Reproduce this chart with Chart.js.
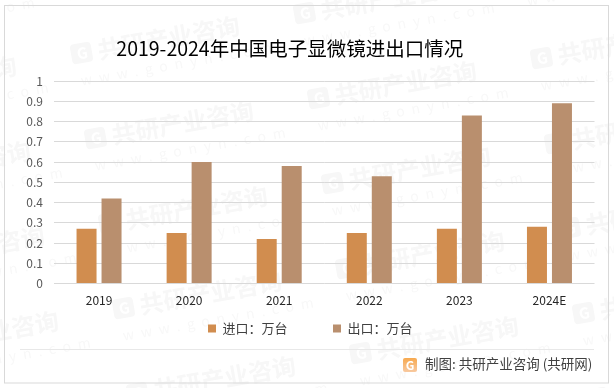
<!DOCTYPE html>
<html>
<head>
<meta charset="utf-8">
<title>2019-2024年中国电子显微镜进出口情况</title>
<script src="https://cdn.jsdelivr.net/npm/chart.js@4"></script>
<style>
    html, body { margin: 0; padding: 0; background: #fff; }
    #wrap { width: 614px; height: 388px; position: relative; }
</style>
</head>
<body>
<div id="wrap"><canvas id="chart" width="614" height="388"></canvas></div>
<script>
    var categories = ['2019', '2020', '2021', '2022', '2023', '2024E'];
    var importValues = [0.27, 0.25, 0.22, 0.25, 0.27, 0.28];
    var exportValues = [0.42, 0.60, 0.58, 0.53, 0.83, 0.89];
    var seriesNames = ['进口：万台', '出口：万台'];
    var chartTitle = '2019-2024年中国电子显微镜进出口情况';
    var sourceText = '制图: 共研产业咨询 (共研网)';
    var CJK = '"Noto Sans CJK SC", "Noto Sans", sans-serif';

    function drawWatermarks(ctx) {
        // stamps sit on a slanted grid across the whole picture
        for (var i = -1; i <= 3; i++) {
            for (var j = -1; j <= 5; j++) {
                var x = 82 + i * 223 + j * 14;
                var y = 53 - i * 40 + j * 85;
                ctx.save();
                ctx.translate(x, y);
                ctx.rotate(-10 * Math.PI / 180);
                ctx.textBaseline = 'middle';
                ctx.fillStyle = '#f7f7f7';
                ctx.beginPath();
                ctx.roundRect(-11, -10, 21, 20, 4);
                ctx.fill();
                ctx.fillStyle = '#ffffff';
                ctx.font = 'bold 15px ' + CJK;
                ctx.fillText('G', -5, 0);
                ctx.fillStyle = '#f7f7f7';
                ctx.font = 'bold 24px ' + CJK;
                ctx.fillText('共研产业咨询', 16, 0);
                ctx.fillStyle = '#f8f8f8';
                ctx.font = '14px ' + CJK;
                ctx.letterSpacing = '7px';
                ctx.fillText('www.gonyn.com', -6, 27);
                ctx.restore();
            }
        }
    }

    var framePlugin = {
        id: 'frame',
        afterLayout: function (chart) {
            // the title and legend are not centred on the padded width
            chart.titleBlock.left -= 7.5;
            chart.titleBlock.right -= 7.5;
            chart.legend.left += 13;
            chart.legend.right += 13;
        },
        beforeDraw: function (chart) {
            var ctx = chart.ctx;
            ctx.save();
            ctx.fillStyle = '#ffffff';
            ctx.fillRect(0, 0, chart.width, chart.height);
            drawWatermarks(ctx);
            ctx.strokeStyle = '#d9d9d9';
            ctx.lineWidth = 1;
            ctx.strokeRect(4.5, 5.5, 604, 377.5);
            ctx.strokeStyle = '#e8e8e8';
            ctx.beginPath();
            ctx.moveTo(20, 349.5);
            ctx.lineTo(594, 349.5);
            ctx.stroke();
            ctx.restore();
        },
        afterDraw: function (chart) {
            var ctx = chart.ctx;
            ctx.save();
            var grad = ctx.createLinearGradient(403, 358, 403, 372);
            grad.addColorStop(0, '#f7a94f');
            grad.addColorStop(1, '#f8c9a0');
            ctx.fillStyle = grad;
            ctx.beginPath();
            ctx.roundRect(403, 358, 14, 14, 2);
            ctx.fill();
            ctx.fillStyle = '#ffffff';
            ctx.font = 'bold 12px ' + CJK;
            ctx.textAlign = 'center';
            ctx.textBaseline = 'middle';
            ctx.fillText('G', 410, 365);
            ctx.fillStyle = '#404040';
            ctx.font = '13.5px ' + CJK;
            ctx.textAlign = 'left';
            ctx.fillText(sourceText, 425, 364);
            ctx.restore();
        }
    };

    new Chart(document.getElementById('chart').getContext('2d'), {
        type: 'bar',
        data: {
            labels: categories,
            datasets: [{
                label: seriesNames[0],
                data: importValues,
                backgroundColor: '#d18d4f'
            }, {
                label: seriesNames[1],
                data: exportValues,
                backgroundColor: '#b98f6e'
            }]
        },
        plugins: [framePlugin],
        options: {
            responsive: false,
            animation: false,
            layout: { padding: { left: 0, right: 19.5, top: 0, bottom: 43 } },
            datasets: { bar: { categoryPercentage: 0.555, barPercentage: 0.8 } },
            plugins: {
                tooltip: { enabled: false },
                title: {
                    display: true,
                    text: chartTitle,
                    color: '#000000',
                    font: { family: CJK, size: 19.5, weight: 'normal', lineHeight: 1.2 },
                    padding: { top: 37, bottom: 20.6 }
                },
                legend: {
                    position: 'bottom',
                    labels: {
                        boxWidth: 8,
                        boxHeight: 8,
                        padding: 6.5,
                        color: '#404040',
                        font: { family: CJK, size: 13 },
                        generateLabels: function (chart) {
                            var items = Chart.defaults.plugins.legend.labels.generateLabels(chart);
                            // wide gap between the two entries
                            items[0].text += '\u3000\u3000\u3000';
                            return items;
                        }
                    }
                }
            },
            scales: {
                x: {
                    grid: { display: false, drawTicks: false },
                    border: { display: false },
                    afterFit: function (scale) { scale.height = 32; },
                    ticks: {
                        color: '#262626',
                        padding: 10,
                        maxRotation: 0,
                        font: { family: CJK, size: 12 }
                    }
                },
                y: {
                    min: 0,
                    max: 1,
                    afterFit: function (scale) { scale.width = 54; },
                    grid: { color: '#d9d9d9', lineWidth: 1, drawTicks: false },
                    border: { display: false },
                    ticks: {
                        stepSize: 0.1,
                        color: '#595959',
                        padding: 11,
                        font: { family: CJK, size: 12 },
                        callback: function (value) { return String(+value.toFixed(1)); }
                    }
                }
            }
        }
    });
</script>
</body>
</html>
